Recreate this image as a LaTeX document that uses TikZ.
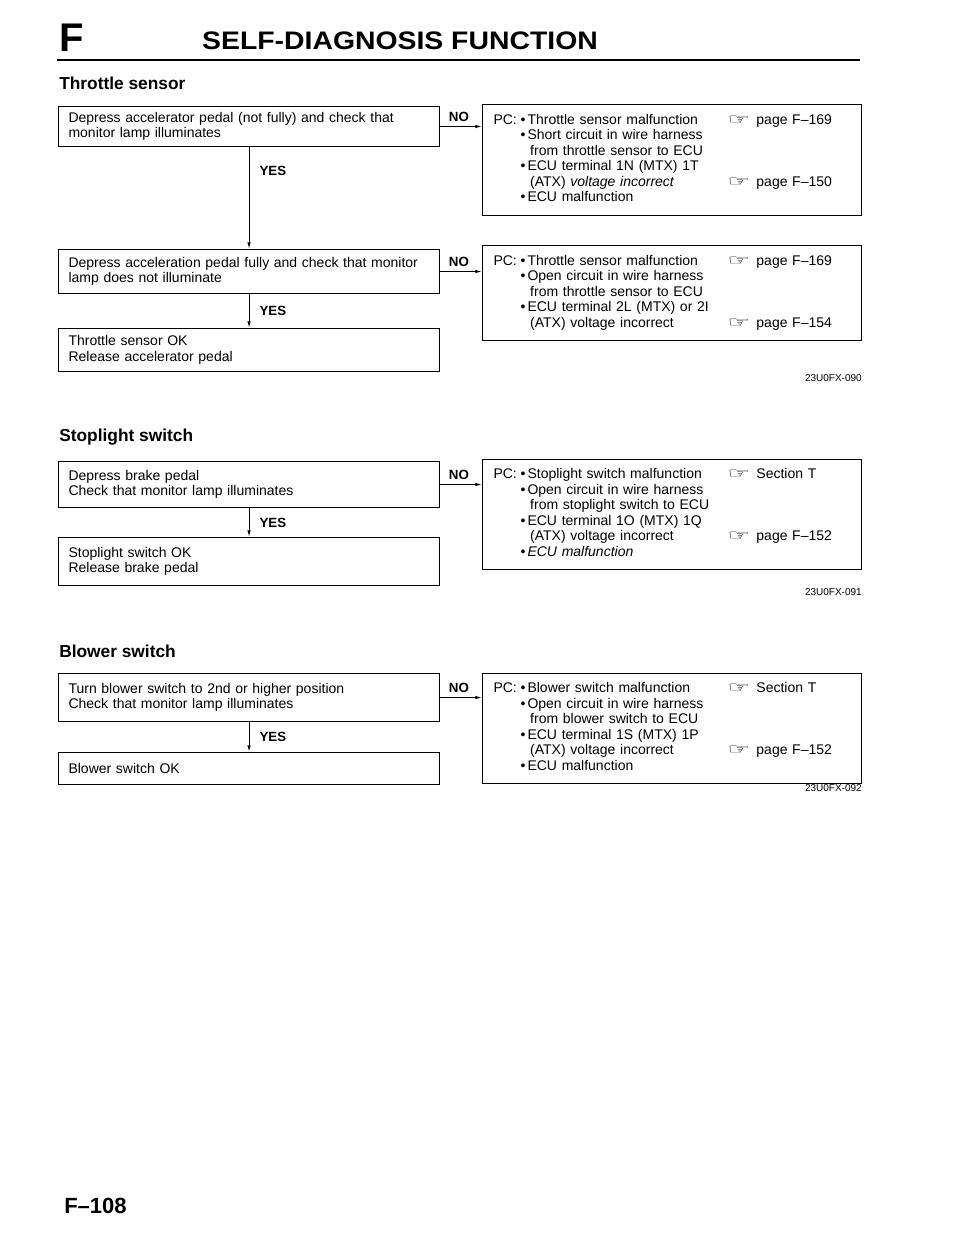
\documentclass[tikz,border=0pt]{standalone}
\usepackage{fontspec}
\setmainfont{Liberation Sans}
\newfontfamily\symfont{DejaVu Sans}
\usetikzlibrary{arrows.meta}

\newcommand{\pgref}{{\symfont\scalebox{1.8}[1.05]{☞}}\hspace{0.45em}}
\newcommand{\cont}{\hspace{2pt}}

\begin{document}
\begin{tikzpicture}[x=0.75pt,y=-0.75pt,
  stepbox/.style={draw,line width=0.8pt,anchor=north west,align=left,text width=270.75pt,inner xsep=7.5pt,inner ysep=0pt,font=\fontsize{10.5}{11.6}\selectfont},
  pcbox/.style={draw,line width=0.8pt,anchor=north west,align=left,text width=267.75pt,inner xsep=8.25pt,inner ysep=0pt,font=\fontsize{10.5}{11.6}\selectfont},
  answer/.style={font=\bfseries\fontsize{10}{12}\selectfont,inner sep=0pt},
  flow/.style={line width=0.8pt,-{Latex[length=5pt,width=2.6pt]}},
  heading/.style={font=\bfseries\fontsize{13}{15}\selectfont,anchor=west,inner sep=0pt},
  partcode/.style={font=\fontsize{7.5}{9}\selectfont,anchor=east,inner sep=0pt}]
\useasboundingbox (0,0) rectangle (960,1241);

% page head
\node[font=\bfseries\fontsize{30}{32}\selectfont,anchor=base west,inner sep=0pt] (sect) at (59,52) {F};
\node[font=\bfseries\fontsize{19}{21}\selectfont,anchor=base,inner sep=0pt] (title) at (400,50) {\scalebox{1.12}[1]{SELF-DIAGNOSIS FUNCTION}};
\draw[line width=1.4pt] (57,60) -- (860,60);

% throttle sensor
\node[heading] (thrhead) at (59,83) {Throttle sensor};
\node[stepbox,minimum height=30pt] (accel) at (58,106) {Depress accelerator pedal (not fully) and check that\\monitor lamp illuminates};
\node[stepbox,minimum height=33pt] (fullpress) at (58,249) {Depress acceleration pedal fully and check that monitor\\lamp does not illuminate};
\node[stepbox,minimum height=32.25pt] (throttleok) at (58,328) {Throttle sensor OK\\Release accelerator pedal};
\node[pcbox,minimum height=83.25pt] (pcthrottle) at (482,104) {\begin{tabular}{@{}p{20.25pt}@{}p{5.25pt}@{}p{150pt}@{}l@{}}
PC: & \textbullet & Throttle sensor malfunction & \pgref page F–169\\
 & \textbullet & Short circuit in wire harness & \\
 & & \cont from throttle sensor to ECU & \\
 & \textbullet & ECU terminal 1N (MTX) 1T & \\
 & & \cont (ATX) \textit{voltage incorrect} & \pgref page F–150\\
 & \textbullet & ECU malfunction &
\end{tabular}};
\node[pcbox,minimum height=71.25pt] (pcfull) at (482,245) {\begin{tabular}{@{}p{20.25pt}@{}p{5.25pt}@{}p{150pt}@{}l@{}}
PC: & \textbullet & Throttle sensor malfunction & \pgref page F–169\\
 & \textbullet & Open circuit in wire harness & \\
 & & \cont from throttle sensor to ECU & \\
 & \textbullet & ECU terminal 2L (MTX) or 2I & \\
 & & \cont (ATX) voltage incorrect & \pgref page F–154
\end{tabular}};
\draw[flow] (accel.south) -- node[answer,pos=0.23,right=7.5pt] {YES} (fullpress.north);
\draw[flow] (fullpress.south) -- node[answer,right=7.5pt] {YES} (throttleok.north);
\draw[flow] (accel.east) -- node[answer,pos=0.45,above=3pt] {NO} (accel.east -| pcthrottle.west);
\draw[flow] (fullpress.east) -- node[answer,pos=0.45,above=3pt] {NO} (fullpress.east -| pcfull.west);
\node[partcode] (code090) at (862,378) {23U0FX-090};

% stoplight switch
\node[heading] (stophead) at (59,437) {Stoplight switch};
\node[stepbox,minimum height=34.5pt] (brake) at (58,461) {Depress brake pedal\\Check that monitor lamp illuminates};
\node[stepbox,minimum height=36pt] (stopok) at (58,537) {Stoplight switch OK\\Release brake pedal};
\node[pcbox,minimum height=82.5pt] (pcstop) at (482,459) {\begin{tabular}{@{}p{20.25pt}@{}p{5.25pt}@{}p{150pt}@{}l@{}}
PC: & \textbullet & Stoplight switch malfunction & \pgref Section T\\
 & \textbullet & Open circuit in wire harness & \\
 & & \cont from stoplight switch to ECU & \\
 & \textbullet & ECU terminal 1O (MTX) 1Q & \\
 & & \cont (ATX) voltage incorrect & \pgref page F–152\\
 & \textbullet & \textit{ECU malfunction} &
\end{tabular}};
\draw[flow] (brake.south) -- node[answer,right=7.5pt] {YES} (stopok.north);
\draw[flow] (brake.east) -- node[answer,pos=0.45,above=3pt] {NO} (brake.east -| pcstop.west);
\node[partcode] (code091) at (862,592) {23U0FX-091};

% blower switch
\node[heading] (blowhead) at (59,651) {Blower switch};
\node[stepbox,minimum height=36pt] (blower) at (58,673) {Turn blower switch to 2nd or higher position\\Check that monitor lamp illuminates};
\node[stepbox,minimum height=24pt] (blowerok) at (58,752) {Blower switch OK};
\node[pcbox,minimum height=82.5pt] (pcblower) at (482,673) {\begin{tabular}{@{}p{20.25pt}@{}p{5.25pt}@{}p{150pt}@{}l@{}}
PC: & \textbullet & Blower switch malfunction & \pgref Section T\\
 & \textbullet & Open circuit in wire harness & \\
 & & \cont from blower switch to ECU & \\
 & \textbullet & ECU terminal 1S (MTX) 1P & \\
 & & \cont (ATX) voltage incorrect & \pgref page F–152\\
 & \textbullet & ECU malfunction &
\end{tabular}};
\draw[flow] (blower.south) -- node[answer,right=7.5pt] {YES} (blowerok.north);
\draw[flow] (blower.east) -- node[answer,pos=0.45,above=3pt] {NO} (blower.east -| pcblower.west);
\node[partcode] (code092) at (862,788) {23U0FX-092};

% page foot
\node[font=\bfseries\fontsize{16.5}{18}\selectfont,anchor=base west,inner sep=0pt] (pageno) at (64,1213) {F–108};
\end{tikzpicture}
\end{document}
